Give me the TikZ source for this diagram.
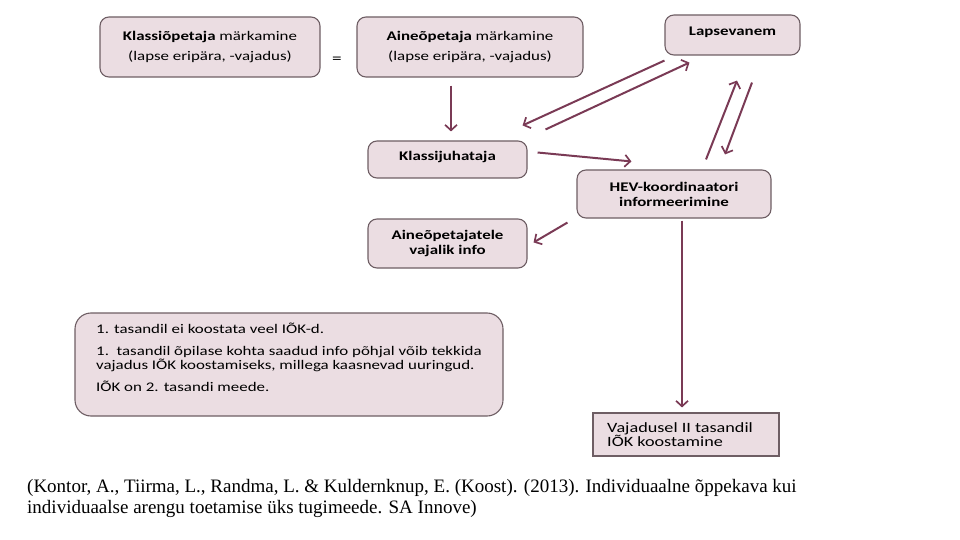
\documentclass[tikz,border=0pt]{standalone}
\usepackage{fontspec}
\setmainfont{Carlito}[FakeStretch=1.28]
\newfontfamily\citefont{Liberation Serif}
\usetikzlibrary{arrows.meta}
\definecolor{boxfill}{HTML}{EBDDE2}
\definecolor{boxline}{HTML}{6E5E64}
\definecolor{arrcol}{HTML}{7A3A55}
\tikzset{
  box/.style={draw=boxline, fill=boxfill, line width=1.1pt, rounded corners=9pt, align=center, font=\fontsize{13.2}{14}\selectfont, inner sep=0pt},
  sqbox/.style={draw=boxline, fill=boxfill, line width=1.1pt, inner sep=0pt},
  arr/.style={draw=arrcol, line width=2pt, -{Straight Barb[length=5.5pt,width=12pt,line width=1.7pt]}},
  txt/.style={font=\fontsize{13.2}{14.5}\selectfont, align=left, inner sep=0pt, anchor=north west},
}
\begin{document}
\begin{tikzpicture}[x=1pt,y=-1pt]
\useasboundingbox (0,0) rectangle (960,540);
% boxes
\node[box, minimum width=220pt, minimum height=60pt] (b1) at (210,47)
  {\raisebox{1.5pt}{\textbf{Klassiõpetaja} märkamine}\\[6pt]\raisebox{1.5pt}{(lapse eripära, -vajadus)}};
\node[box, minimum width=226pt, minimum height=60pt] (b2) at (470,47)
  {\raisebox{1.5pt}{\textbf{Aineõpetaja} märkamine}\\[6pt]\raisebox{1.5pt}{(lapse eripära, -vajadus)}};
\node[font=\fontsize{15}{15}\selectfont, inner sep=0pt] (eq) at (337,60) {=};
\node[box, minimum width=135pt, minimum height=40pt] (lap) at (732.5,35)
  {\raisebox{8pt}{\textbf{Lapsevanem}}};
\node[box, minimum width=159pt, minimum height=37pt] (klj) at (447.5,159.5)
  {\raisebox{6.5pt}{\textbf{Klassijuhataja}}};
\node[box, minimum width=194pt, minimum height=48pt] (hev) at (674,194)
  {\textbf{HEV-koordinaatori}\\[1pt]\textbf{informeerimine}};
\node[box, minimum width=159pt, minimum height=49pt] (ain) at (447.5,243.5)
  {\textbf{Aineõpetajatele}\\[1pt]\textbf{vajalik info}};
\node[box, rounded corners=16pt, minimum width=428pt, minimum height=103pt] (big) at (289,364.5) {};
\node[txt] (bigtxt) at (96,323)
  {1. tasandil ei koostata veel IÕK-d.\\[7pt]
   1.\ \ tasandil õpilase kohta saadud info põhjal võib tekkida\\
   vajadus IÕK koostamiseks, millega kaasnevad uuringud.\\[7pt]
   IÕK on 2. tasandi meede.};
\node[sqbox, minimum width=186pt, minimum height=43pt] (vaj) at (686,434.5) {};
\node[txt, font=\fontsize{14.2}{14.5}\selectfont] (vajtxt) at (607,422)
  {Vajadusel II tasandil\\IÕK koostamine};
% citation
\node[anchor=north west, inner sep=0pt, align=left, font=\citefont\fontsize{19}{21}\selectfont] (cite) at (27,479)
  {(Kontor, A., Tiirma, L., Randma, L. \& Kuldernknup, E. (Koost). (2013). Individuaalne õppekava kui\\
   individuaalse arengu toetamise üks tugimeede. SA Innove)};
% arrows
\draw[arr] ([xshift=-19pt,yshift=-8pt]b2.south) -- ([xshift=3.5pt,yshift=9pt]klj.north);
\draw[arr] ([yshift=-5pt]lap.south west) -- ([xshift=-5pt,yshift=15pt]klj.north east);
\draw[arr] ([xshift=18pt,yshift=11pt]klj.north east) -- ([xshift=25pt,yshift=-7pt]lap.south west);
\draw[arr] ([xshift=10pt,yshift=7pt]klj.east) -- ([xshift=55pt,yshift=8pt]hev.north west);
\draw[arr] ([xshift=-9pt,yshift=-4pt]hev.south west) -- ([xshift=6pt,yshift=-24pt]ain.north east);
\draw[arr] ([xshift=32pt,yshift=10pt]hev.north) -- ([xshift=4.5pt,yshift=-25pt]lap.south);
\draw[arr] ([xshift=19.5pt,yshift=-27pt]lap.south) -- ([xshift=51pt,yshift=15pt]hev.north);
\draw[arr] ([xshift=8pt,yshift=-2pt]hev.south) -- ([xshift=-4pt,yshift=5pt]vaj.north);
\end{tikzpicture}
\end{document}
